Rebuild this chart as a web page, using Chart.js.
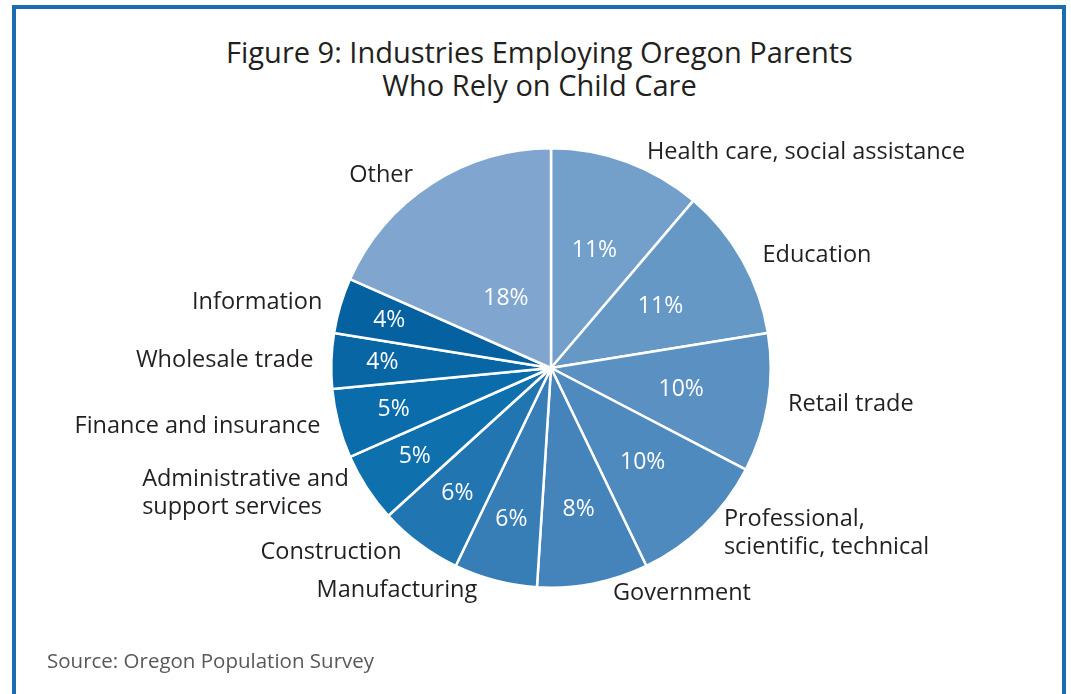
<!DOCTYPE html>
<html>
<head>
<meta charset="utf-8">
<script src="https://cdn.jsdelivr.net/npm/chart.js@4.4.0/dist/chart.umd.min.js"></script>
<style>
  html, body { margin: 0; padding: 0; background: #ffffff; overflow: hidden; }
  #wrap { position: relative; width: 1071px; height: 694px; }
  #frame { position: absolute; left: 12px; top: 5px; width: 1046px; height: 720px; border: 4px solid #1b6db0; box-sizing: content-box; }
  #title { position: absolute; left: 0; width: 1079px; top: 35px; text-align: center; font-family: "Open Sans", sans-serif; font-size: 29px; line-height: 33px; color: #231f20; }
  #source { position: absolute; left: 47px; top: 646px; font-family: "Open Sans", sans-serif; font-size: 20.5px; color: #58595b; }
  canvas { position: absolute; left: 0; top: 0; }
</style>
</head>
<body>
<div id="wrap">
  <div id="frame"></div>
  <div id="title">Figure 9: Industries Employing Oregon Parents<br>Who Rely on Child Care</div>
  <canvas id="c" width="1071" height="694"></canvas>
  <div id="source">Source: Oregon Population Survey</div>
</div>
<script>
const categories = [
  "Health care, social assistance",
  "Education",
  "Retail trade",
  "Professional, scientific, technical",
  "Government",
  "Manufacturing",
  "Construction",
  "Administrative and support services",
  "Finance and insurance",
  "Wholesale trade",
  "Information",
  "Other"
];
const labelLines = [
  ["Health care, social assistance"],
  ["Education"],
  ["Retail trade"],
  ["Professional,", "scientific, technical"],
  ["Government"],
  ["Manufacturing"],
  ["Construction"],
  ["Administrative and", "support services"],
  ["Finance and insurance"],
  ["Wholesale trade"],
  ["Information"],
  ["Other"]
];
const shares = [11, 11, 10, 10, 8, 6, 6, 5, 5, 4, 4, 18];
const colors = [
  "#72a0ca", "#6698c6", "#5a91c2", "#4f8abe", "#4484ba", "#377db6",
  "#2176b2", "#0f70ae", "#0a6caa", "#0866a5", "#0661a0", "#80a6cf"
];

const labelPlugin = {
  id: "sliceLabels",
  afterDatasetsDraw(chart) {
    const ctx = chart.ctx;
    const meta = chart.getDatasetMeta(0);
    ctx.save();
    meta.data.forEach((arc, i) => {
      const p = arc.getProps(["x", "y", "startAngle", "endAngle", "outerRadius"], true);
      const mid = (p.startAngle + p.endAngle) / 2;
      const cx = Math.cos(mid), sy = Math.sin(mid);
      const v = shares[i];
      // inside percentage
      const ri = p.outerRadius * (0.88 - 0.028 * v);
      ctx.fillStyle = "#ffffff";
      ctx.font = '23px "Open Sans", sans-serif';
      ctx.textAlign = "center";
      ctx.textBaseline = "middle";
      ctx.fillText(v + "%", p.x + ri * cx, p.y + ri * sy);
      // outside category label
      const ex = p.x + p.outerRadius * cx;
      const ey = p.y + (p.outerRadius + 10) * sy;
      const right = cx >= 0;
      const lines = labelLines[i];
      ctx.fillStyle = "#231f20";
      ctx.font = '23.5px "Open Sans", sans-serif';
      const lh = 28;
      const widths = lines.map(l => ctx.measureText(l).width);
      const maxW = Math.max(...widths);
      const left = right ? ex + 20 : ex - 18 - maxW;
      ctx.textAlign = "left";
      lines.forEach((l, k) => {
        const y = ey + (k - (lines.length - 1) / 2) * lh;
        ctx.fillText(l, left, y);
      });
    });
    ctx.restore();
  }
};

new Chart(document.getElementById("c"), {
  type: "pie",
  data: {
    labels: categories,
    datasets: [{
      data: shares,
      backgroundColor: colors,
      borderColor: "#ffffff",
      borderWidth: 2.5
    }]
  },
  options: {
    responsive: false,
    animation: false,
    layout: { padding: { top: 147, bottom: 105, left: 330, right: 299 } },
    plugins: {
      legend: { display: false },
      tooltip: { enabled: false },
      title: { display: false }
    }
  },
  plugins: [labelPlugin]
});
</script>
</body>
</html>
